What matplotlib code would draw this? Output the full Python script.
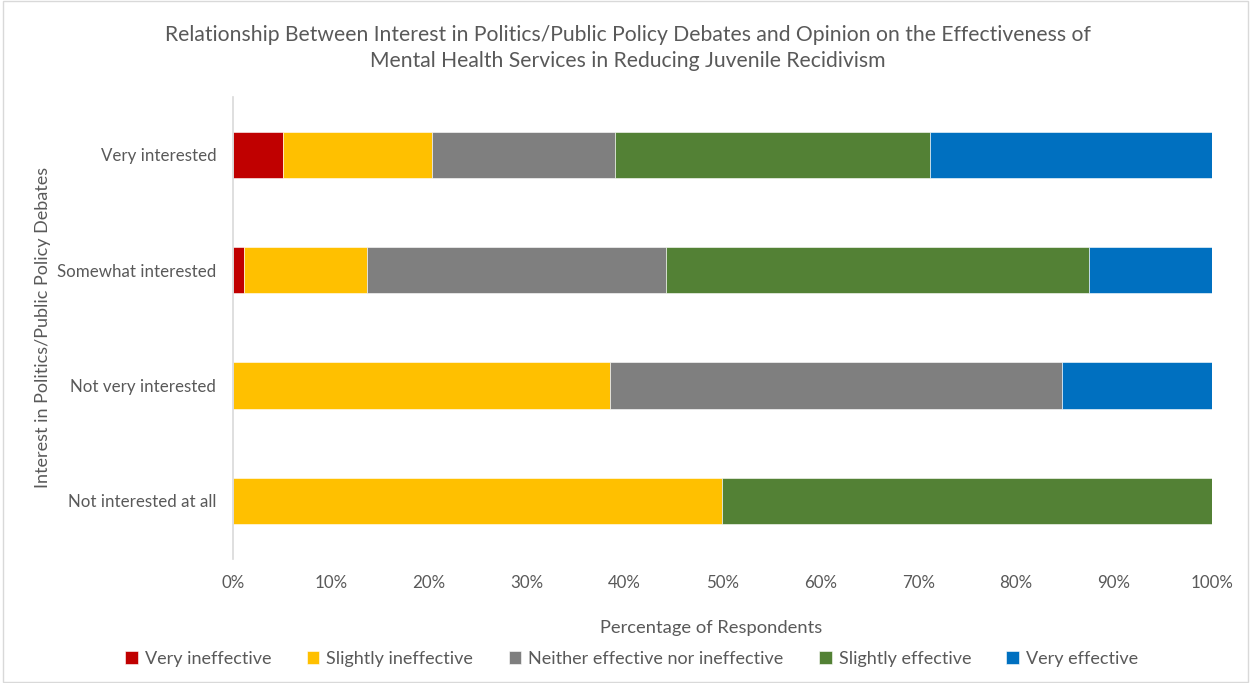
import matplotlib
matplotlib.use("Agg")
import matplotlib.pyplot as plt
from matplotlib.ticker import PercentFormatter
import numpy as np

plt.rcParams['font.family'] = ['Lato', 'DejaVu Sans']

categories = ["Very interested", "Somewhat interested", "Not very interested", "Not interested at all"]
series_names = ["Very ineffective", "Slightly ineffective", "Neither effective nor ineffective",
                "Slightly effective", "Very effective"]
very_ineffective = [5.1, 1.1, 0.0, 0.0]
slightly_ineffective = [15.2, 12.6, 38.5, 50.0]
neither = [18.7, 30.5, 46.2, 0.0]
slightly_effective = [32.2, 43.2, 0.0, 50.0]
very_effective = [28.8, 12.6, 15.3, 0.0]
colors = ["#C00000", "#FFC000", "#7F7F7F", "#538135", "#0070C0"]

series = [very_ineffective, slightly_ineffective, neither, slightly_effective, very_effective]

fig = plt.figure(figsize=(12.51, 6.83), dpi=100)
ax = fig.add_axes([0.1862, 0.182, 0.7826, 0.676])

y = np.arange(len(categories))
left = np.zeros(len(categories))
for name, vals, c in zip(series_names, series, colors):
    vals = np.array(vals, dtype=float)
    ax.barh(y, vals, left=left, height=0.4, color=c, label=name,
            edgecolor='white', linewidth=0.4)
    left += vals

ax.set_ylim(len(categories) - 0.5, -0.5)
ax.set_xlim(0, 100)
ax.set_yticks(y)
ax.set_yticklabels(categories)
ax.set_xticks(np.arange(0, 101, 10))
ax.xaxis.set_major_formatter(PercentFormatter(decimals=0))
txt = '#595959'
ax.tick_params(axis='both', colors=txt, labelsize=12.2, length=0)
ax.tick_params(axis='x', pad=12)
ax.tick_params(axis='y', pad=12)
for s in ['top', 'right', 'bottom']:
    ax.spines[s].set_visible(False)
ax.spines['left'].set_color('#D9D9D9')
ax.spines['left'].set_linewidth(1.2)

ax.set_xlabel("Percentage of Respondents", color=txt, fontsize=13.2)
ax.xaxis.set_label_coords(0.488, -0.132)
ax.set_ylabel("Interest in Politics/Public Policy Debates", color=txt, fontsize=13, labelpad=4)

fig.text(0.502, 0.93, "Relationship Between Interest in Politics/Public Policy Debates and Opinion on the Effectiveness of\nMental Health Services in Reducing Juvenile Recidivism",
         ha='center', va='center', fontsize=15.2, color=txt, linespacing=1.4)

leg = fig.legend(loc='center', bbox_to_anchor=(0.505, 0.035), ncol=5, frameon=False,
                 fontsize=13, handlelength=0.7, handleheight=0.7, handletextpad=0.4,
                 columnspacing=1.95)
for t in leg.get_texts():
    t.set_color(txt)

border = plt.Rectangle((0.002, 0.002), 0.996, 0.996, transform=fig.transFigure,
                       fill=False, edgecolor='#D9D9D9', linewidth=1)
fig.patches.append(border)

fig.savefig("out.png", dpi=100, facecolor='white')
